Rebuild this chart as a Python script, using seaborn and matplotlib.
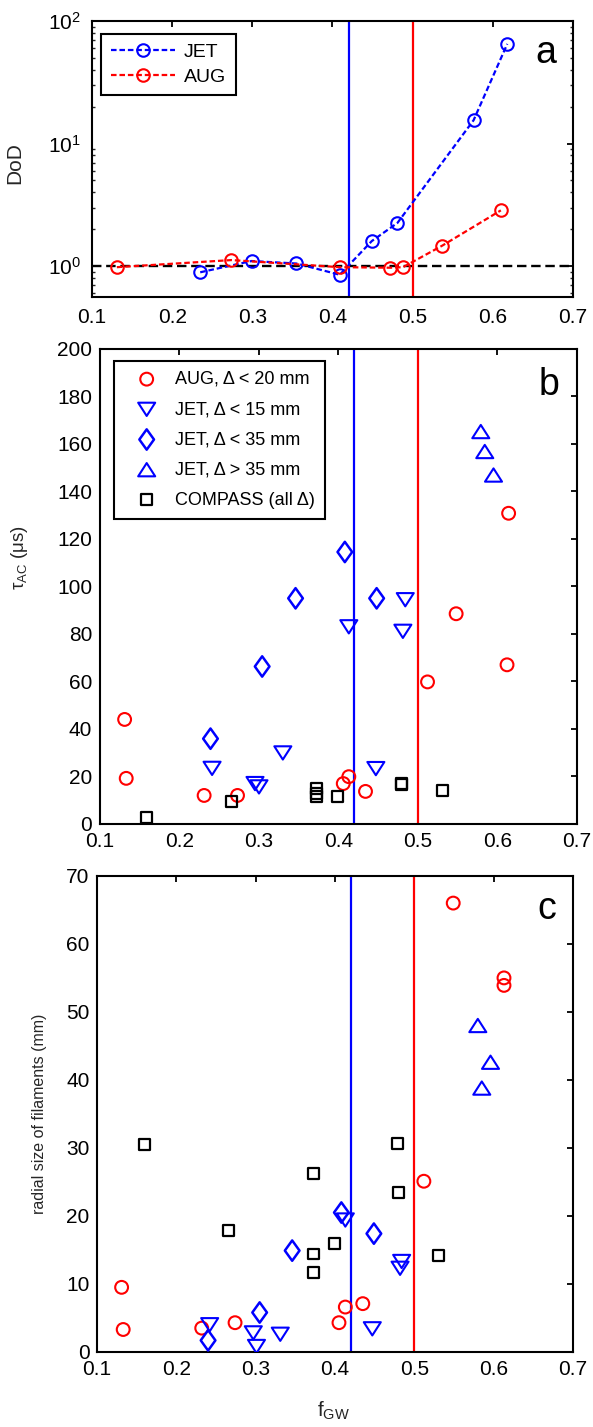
import numpy as np
import pandas as pd
import matplotlib
matplotlib.use("Agg")
import matplotlib.pyplot as plt
import matplotlib.path as mpath
from matplotlib.ticker import NullFormatter, LogLocator
import seaborn as sns

# --- panel a: DoD vs Greenwald fraction ---
JET_FGW_A = [0.235, 0.299, 0.355, 0.409, 0.449, 0.481, 0.576, 0.618]
JET_DOD = [0.89, 1.10, 1.05, 0.85, 1.60, 2.25, 15.5, 65.0]
AUG_FGW_A = [0.131, 0.274, 0.409, 0.472, 0.488, 0.537, 0.610]
AUG_DOD = [0.98, 1.12, 0.98, 0.97, 0.98, 1.47, 2.85]

# --- panel b: autocorrelation time (us) ---
AUG_FGW_B = [0.131, 0.133, 0.231, 0.273, 0.406, 0.413, 0.434, 0.512, 0.548, 0.612, 0.614]
AUG_TAU = [44.0, 19.2, 12.0, 12.0, 17.0, 19.9, 13.7, 59.8, 88.5, 67.0, 130.8]
JET15_FGW_B = [0.241, 0.295, 0.300, 0.330, 0.413, 0.447, 0.481, 0.484]
JET15_TAU = [23.4, 17.0, 15.6, 29.9, 83.0, 23.3, 81.1, 94.4]
JET35_FGW_B = [0.239, 0.304, 0.346, 0.408, 0.448]
JET35_TAU = [35.9, 66.3, 95.0, 114.5, 95.0]
JETGT_FGW_B = [0.579, 0.584, 0.595]
JETGT_TAU = [165.2, 156.8, 146.9]
COMPASS_FGW_B = [0.159, 0.266, 0.372, 0.372, 0.372, 0.399, 0.479, 0.479, 0.531]
COMPASS_TAU = [2.9, 9.3, 14.8, 13.0, 11.6, 11.5, 17.0, 16.5, 14.0]

# --- panel c: radial size of filaments (mm) ---
AUG_FGW_C = [0.131, 0.133, 0.232, 0.274, 0.405, 0.413, 0.435, 0.512, 0.549, 0.613, 0.613]
AUG_SIZE = [9.5, 3.3, 3.5, 4.3, 4.3, 6.6, 7.1, 25.1, 66.0, 55.0, 53.9]
JET15_FGW_C = [0.242, 0.297, 0.301, 0.331, 0.413, 0.447, 0.482, 0.484]
JET15_SIZE = [4.0, 2.8, 0.8, 2.6, 19.4, 3.4, 12.3, 13.3]
JET35_FGW_C = [0.240, 0.305, 0.346, 0.408, 0.449]
JET35_SIZE = [1.7, 5.8, 14.9, 20.5, 17.4]
JETGT_FGW_C = [0.580, 0.585, 0.596]
JETGT_SIZE = [48.0, 38.8, 42.6]
COMPASS_FGW_C = [0.160, 0.266, 0.373, 0.373, 0.373, 0.399, 0.479, 0.480, 0.531]
COMPASS_SIZE = [30.5, 17.8, 26.2, 14.4, 11.7, 15.9, 30.6, 23.4, 14.2]

JET_LIMIT = 0.42
AUG_LIMIT = 0.50

GROUPS = ["AUG, \u0394 < 20 mm", "JET, \u0394 < 15 mm", "JET, \u0394 < 35 mm",
          "JET, \u0394 > 35 mm", "COMPASS (all \u0394)"]

# --- style ---
sns.set_theme(style="white")
plt.rcParams["font.family"] = ["Liberation Sans", "DejaVu Sans"]
plt.rcParams["mathtext.fontset"] = "custom"
plt.rcParams["mathtext.rm"] = "Liberation Sans"
plt.rcParams["mathtext.it"] = "Liberation Sans"
plt.rcParams["mathtext.default"] = "regular"
plt.rcParams["axes.edgecolor"] = "black"
plt.rcParams["text.color"] = "black"

TRI_DOWN = mpath.Path([(-1, 0.78), (1, 0.78), (0, -0.78), (-1, 0.78)], closed=True)
TRI_UP = mpath.Path([(-1, -0.78), (1, -0.78), (0, 0.78), (-1, -0.78)], closed=True)
DIAMOND = mpath.Path([(0, 1), (0.72, 0), (0, -1), (-0.72, 0), (0, 1)], closed=True)

STYLE = {
    GROUPS[0]: dict(marker="o", color="red", s=85, lw=1.5),
    GROUPS[1]: dict(marker=TRI_DOWN, color="blue", s=150, lw=1.5),
    GROUPS[2]: dict(marker=DIAMOND, color="blue", s=215, lw=1.8),
    GROUPS[3]: dict(marker=TRI_UP, color="blue", s=150, lw=1.5),
    GROUPS[4]: dict(marker="s", color="black", s=62, lw=1.6),
}


def style_axis(ax, pad=5.5):
    for sp in ax.spines.values():
        sp.set_linewidth(1.5)
        sp.set_color("black")
    ax.tick_params(which="major", direction="in", top=True, right=True,
                   length=4.5, width=1.3, labelsize=15, pad=pad, colors="black")
    ax.tick_params(which="minor", direction="in", top=False, left=True, right=True,
                   length=2.5, width=1.0)
    ax.set_xlim(0.1, 0.7)
    ax.set_xticks(np.arange(0.1, 0.71, 0.1))
    ax.set_xticklabels([f"{v:.1f}" for v in np.arange(0.1, 0.71, 0.1)])


def scatter_panel(ax, xs, ys):
    for name, x, y in zip(GROUPS, xs, ys):
        st = STYLE[name]
        sns.scatterplot(x=x, y=y, marker=st["marker"], s=st["s"], facecolor="none",
                        edgecolor=st["color"], color=st["color"], linewidth=st["lw"],
                        label=name, ax=ax, zorder=3)
    ax.axvline(JET_LIMIT, color="blue", lw=1.6, zorder=2)
    ax.axvline(AUG_LIMIT, color="red", lw=1.6, zorder=2)


fig = plt.figure(figsize=(5.93, 14.27), dpi=100)
ax_a = fig.add_axes([0.1551, 0.7919, 0.8112, 0.1934])
ax_b = fig.add_axes([0.1686, 0.4226, 0.8044, 0.3329])
ax_c = fig.add_axes([0.1636, 0.0526, 0.8027, 0.3336])

# panel a
ax_a.set_yscale("log")
ax_a.axhline(1.0, color="black", lw=1.7, ls=(0, (4, 2)), zorder=1)
sns.lineplot(x=JET_FGW_A, y=JET_DOD, color="blue", lw=1.6, ls=(0, (2.5, 1.3)),
             marker="o", ms=9, markerfacecolor="none", markeredgecolor="blue",
             markeredgewidth=1.5, label="JET", ax=ax_a, zorder=3)
sns.lineplot(x=AUG_FGW_A, y=AUG_DOD, color="red", lw=1.6, ls=(0, (2.5, 1.3)),
             marker="o", ms=9, markerfacecolor="none", markeredgecolor="red",
             markeredgewidth=1.5, label="AUG", ax=ax_a, zorder=3)
ax_a.axvline(JET_LIMIT, color="blue", lw=1.6, zorder=2)
ax_a.axvline(AUG_LIMIT, color="red", lw=1.6, zorder=2)
style_axis(ax_a, pad=8)
ax_a.set_ylim(0.56, 100)
ax_a.yaxis.set_major_locator(LogLocator(base=10))
ax_a.yaxis.set_minor_locator(LogLocator(base=10, subs=np.arange(2, 10)))
ax_a.yaxis.set_minor_formatter(NullFormatter())
ax_a.set_ylabel("DoD", fontsize=15)
ax_a.yaxis.set_label_coords(-0.141, 0.485)
leg = ax_a.legend(loc="upper left", bbox_to_anchor=(0.0187, 0.953), borderaxespad=0,
                  fontsize=14, handlelength=3.3, handletextpad=0.45, labelspacing=0.35,
                  borderpad=0.5, fancybox=False, edgecolor="black", framealpha=1)
leg.get_frame().set_linewidth(1.5)
ax_a.text(0.921, 0.847, "a", transform=ax_a.transAxes, fontsize=27, ha="left", va="baseline")

# panel b
scatter_panel(ax_b, [AUG_FGW_B, JET15_FGW_B, JET35_FGW_B, JETGT_FGW_B, COMPASS_FGW_B],
              [AUG_TAU, JET15_TAU, JET35_TAU, JETGT_TAU, COMPASS_TAU])
style_axis(ax_b)
ax_b.set_ylim(0, 200)
ax_b.set_yticks(np.arange(0, 201, 20))
ax_b.set_ylabel(r"$\tau_{AC}$ ($\mu$s)", fontsize=13.5)
ax_b.yaxis.set_label_coords(-0.147, 0.56)
leg = ax_b.legend(loc="upper left", bbox_to_anchor=(0.0294, 0.975), borderaxespad=0,
                  fontsize=13, handlelength=2.5, handletextpad=0.3, labelspacing=0.73,
                  borderpad=0.56, scatterpoints=1, fancybox=False, edgecolor="black",
                  framealpha=1)
leg.get_frame().set_linewidth(1.5)
ax_b.text(0.919, 0.903, "b", transform=ax_b.transAxes, fontsize=27, ha="left", va="baseline")

# panel c
scatter_panel(ax_c, [AUG_FGW_C, JET15_FGW_C, JET35_FGW_C, JETGT_FGW_C, COMPASS_FGW_C],
              [AUG_SIZE, JET15_SIZE, JET35_SIZE, JETGT_SIZE, COMPASS_SIZE])
style_axis(ax_c)
ax_c.legend_.remove()
ax_c.set_ylim(0, 70)
ax_c.set_yticks(np.arange(0, 71, 10))
ax_c.set_ylabel("radial size of filaments (mm)", fontsize=11.5)
ax_c.yaxis.set_label_coords(-0.105, 0.5)
ax_c.set_xlabel(r"$f_{GW}$", fontsize=15)
ax_c.xaxis.set_label_coords(0.496, -0.10)
ax_c.text(0.925, 0.909, "c", transform=ax_c.transAxes, fontsize=27, ha="left", va="baseline")

fig.savefig("out.png", dpi=100)
